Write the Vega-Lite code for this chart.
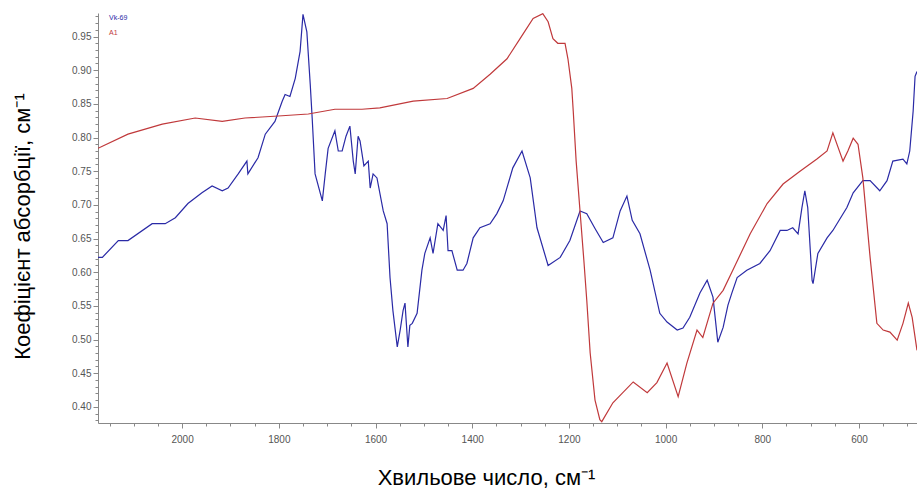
{
  "$schema": "https://vega.github.io/schema/vega-lite/v6.json",
  "autosize": "none",
  "width": 819,
  "height": 410,
  "padding": {"left": 98, "top": 13, "right": 0, "bottom": 67},
  "background": "white",
  "config": {"view": {"stroke": null}},
  "data": {"values": [
    {"s":"Vk-69","wn":2174,"a":0.622},{"s":"Vk-69","wn":2165,"a":0.622},{"s":"Vk-69","wn":2132,"a":0.647},{"s":"Vk-69","wn":2112,"a":0.647},{"s":"Vk-69","wn":2062,"a":0.672},{"s":"Vk-69","wn":2035,"a":0.672},{"s":"Vk-69","wn":2014,"a":0.681},{"s":"Vk-69","wn":1988,"a":0.702},{"s":"Vk-69","wn":1959,"a":0.718},{"s":"Vk-69","wn":1938,"a":0.728},{"s":"Vk-69","wn":1917,"a":0.721},{"s":"Vk-69","wn":1905,"a":0.725},{"s":"Vk-69","wn":1884,"a":0.746},{"s":"Vk-69","wn":1866,"a":0.765},{"s":"Vk-69","wn":1864,"a":0.746},{"s":"Vk-69","wn":1843,"a":0.770},{"s":"Vk-69","wn":1828,"a":0.805},{"s":"Vk-69","wn":1808,"a":0.824},{"s":"Vk-69","wn":1793,"a":0.854},{"s":"Vk-69","wn":1787,"a":0.864},{"s":"Vk-69","wn":1777,"a":0.861},{"s":"Vk-69","wn":1766,"a":0.888},{"s":"Vk-69","wn":1756,"a":0.928},{"s":"Vk-69","wn":1750,"a":0.983},{"s":"Vk-69","wn":1742,"a":0.957},{"s":"Vk-69","wn":1735,"a":0.879},{"s":"Vk-69","wn":1731,"a":0.829},{"s":"Vk-69","wn":1725,"a":0.746},{"s":"Vk-69","wn":1710,"a":0.706},{"s":"Vk-69","wn":1704,"a":0.746},{"s":"Vk-69","wn":1698,"a":0.784},{"s":"Vk-69","wn":1684,"a":0.810},{"s":"Vk-69","wn":1677,"a":0.780},{"s":"Vk-69","wn":1669,"a":0.780},{"s":"Vk-69","wn":1661,"a":0.802},{"s":"Vk-69","wn":1653,"a":0.817},{"s":"Vk-69","wn":1646,"a":0.765},{"s":"Vk-69","wn":1642,"a":0.746},{"s":"Vk-69","wn":1636,"a":0.802},{"s":"Vk-69","wn":1632,"a":0.795},{"s":"Vk-69","wn":1624,"a":0.758},{"s":"Vk-69","wn":1615,"a":0.765},{"s":"Vk-69","wn":1611,"a":0.725},{"s":"Vk-69","wn":1605,"a":0.746},{"s":"Vk-69","wn":1597,"a":0.740},{"s":"Vk-69","wn":1584,"a":0.691},{"s":"Vk-69","wn":1576,"a":0.672},{"s":"Vk-69","wn":1570,"a":0.592},{"s":"Vk-69","wn":1564,"a":0.543},{"s":"Vk-69","wn":1555,"a":0.489},{"s":"Vk-69","wn":1549,"a":0.514},{"s":"Vk-69","wn":1543,"a":0.543},{"s":"Vk-69","wn":1539,"a":0.554},{"s":"Vk-69","wn":1533,"a":0.489},{"s":"Vk-69","wn":1529,"a":0.521},{"s":"Vk-69","wn":1524,"a":0.524},{"s":"Vk-69","wn":1514,"a":0.539},{"s":"Vk-69","wn":1504,"a":0.603},{"s":"Vk-69","wn":1498,"a":0.628},{"s":"Vk-69","wn":1487,"a":0.651},{"s":"Vk-69","wn":1481,"a":0.628},{"s":"Vk-69","wn":1471,"a":0.672},{"s":"Vk-69","wn":1460,"a":0.662},{"s":"Vk-69","wn":1454,"a":0.684},{"s":"Vk-69","wn":1450,"a":0.632},{"s":"Vk-69","wn":1442,"a":0.632},{"s":"Vk-69","wn":1431,"a":0.603},{"s":"Vk-69","wn":1419,"a":0.603},{"s":"Vk-69","wn":1411,"a":0.613},{"s":"Vk-69","wn":1398,"a":0.651},{"s":"Vk-69","wn":1384,"a":0.666},{"s":"Vk-69","wn":1363,"a":0.672},{"s":"Vk-69","wn":1349,"a":0.687},{"s":"Vk-69","wn":1336,"a":0.706},{"s":"Vk-69","wn":1316,"a":0.755},{"s":"Vk-69","wn":1297,"a":0.780},{"s":"Vk-69","wn":1280,"a":0.740},{"s":"Vk-69","wn":1266,"a":0.666},{"s":"Vk-69","wn":1243,"a":0.610},{"s":"Vk-69","wn":1218,"a":0.622},{"s":"Vk-69","wn":1198,"a":0.647},{"s":"Vk-69","wn":1177,"a":0.691},{"s":"Vk-69","wn":1163,"a":0.687},{"s":"Vk-69","wn":1146,"a":0.665},{"s":"Vk-69","wn":1129,"a":0.644},{"s":"Vk-69","wn":1109,"a":0.651},{"s":"Vk-69","wn":1094,"a":0.691},{"s":"Vk-69","wn":1080,"a":0.713},{"s":"Vk-69","wn":1069,"a":0.677},{"s":"Vk-69","wn":1053,"a":0.657},{"s":"Vk-69","wn":1032,"a":0.603},{"s":"Vk-69","wn":1012,"a":0.539},{"s":"Vk-69","wn":997,"a":0.526},{"s":"Vk-69","wn":976,"a":0.514},{"s":"Vk-69","wn":964,"a":0.517},{"s":"Vk-69","wn":950,"a":0.533},{"s":"Vk-69","wn":929,"a":0.569},{"s":"Vk-69","wn":914,"a":0.588},{"s":"Vk-69","wn":902,"a":0.563},{"s":"Vk-69","wn":892,"a":0.496},{"s":"Vk-69","wn":881,"a":0.518},{"s":"Vk-69","wn":871,"a":0.551},{"s":"Vk-69","wn":863,"a":0.569},{"s":"Vk-69","wn":852,"a":0.592},{"s":"Vk-69","wn":832,"a":0.603},{"s":"Vk-69","wn":805,"a":0.613},{"s":"Vk-69","wn":784,"a":0.632},{"s":"Vk-69","wn":763,"a":0.662},{"s":"Vk-69","wn":749,"a":0.662},{"s":"Vk-69","wn":737,"a":0.666},{"s":"Vk-69","wn":726,"a":0.657},{"s":"Vk-69","wn":718,"a":0.696},{"s":"Vk-69","wn":712,"a":0.721},{"s":"Vk-69","wn":706,"a":0.696},{"s":"Vk-69","wn":697,"a":0.588},{"s":"Vk-69","wn":695,"a":0.583},{"s":"Vk-69","wn":685,"a":0.628},{"s":"Vk-69","wn":666,"a":0.651},{"s":"Vk-69","wn":654,"a":0.662},{"s":"Vk-69","wn":625,"a":0.696},{"s":"Vk-69","wn":612,"a":0.718},{"s":"Vk-69","wn":592,"a":0.736},{"s":"Vk-69","wn":577,"a":0.736},{"s":"Vk-69","wn":557,"a":0.721},{"s":"Vk-69","wn":542,"a":0.736},{"s":"Vk-69","wn":530,"a":0.765},{"s":"Vk-69","wn":509,"a":0.768},{"s":"Vk-69","wn":501,"a":0.761},{"s":"Vk-69","wn":495,"a":0.780},{"s":"Vk-69","wn":488,"a":0.839},{"s":"Vk-69","wn":484,"a":0.891},{"s":"Vk-69","wn":480,"a":0.898},
    {"s":"A1","wn":2174,"a":0.784},{"s":"A1","wn":2165,"a":0.787},{"s":"A1","wn":2112,"a":0.805},{"s":"A1","wn":2041,"a":0.820},{"s":"A1","wn":1973,"a":0.829},{"s":"A1","wn":1917,"a":0.824},{"s":"A1","wn":1870,"a":0.829},{"s":"A1","wn":1801,"a":0.832},{"s":"A1","wn":1739,"a":0.835},{"s":"A1","wn":1684,"a":0.842},{"s":"A1","wn":1628,"a":0.842},{"s":"A1","wn":1591,"a":0.844},{"s":"A1","wn":1522,"a":0.854},{"s":"A1","wn":1452,"a":0.858},{"s":"A1","wn":1398,"a":0.873},{"s":"A1","wn":1363,"a":0.894},{"s":"A1","wn":1328,"a":0.917},{"s":"A1","wn":1301,"a":0.947},{"s":"A1","wn":1274,"a":0.977},{"s":"A1","wn":1254,"a":0.984},{"s":"A1","wn":1243,"a":0.972},{"s":"A1","wn":1233,"a":0.947},{"s":"A1","wn":1223,"a":0.940},{"s":"A1","wn":1208,"a":0.940},{"s":"A1","wn":1202,"a":0.917},{"s":"A1","wn":1194,"a":0.873},{"s":"A1","wn":1191,"a":0.839},{"s":"A1","wn":1185,"a":0.765},{"s":"A1","wn":1177,"a":0.691},{"s":"A1","wn":1169,"a":0.617},{"s":"A1","wn":1163,"a":0.558},{"s":"A1","wn":1156,"a":0.480},{"s":"A1","wn":1146,"a":0.410},{"s":"A1","wn":1136,"a":0.381},{"s":"A1","wn":1132,"a":0.378},{"s":"A1","wn":1109,"a":0.406},{"s":"A1","wn":1067,"a":0.437},{"s":"A1","wn":1038,"a":0.421},{"s":"A1","wn":1018,"a":0.436},{"s":"A1","wn":997,"a":0.465},{"s":"A1","wn":974,"a":0.415},{"s":"A1","wn":956,"a":0.465},{"s":"A1","wn":935,"a":0.514},{"s":"A1","wn":923,"a":0.503},{"s":"A1","wn":902,"a":0.554},{"s":"A1","wn":881,"a":0.573},{"s":"A1","wn":861,"a":0.603},{"s":"A1","wn":825,"a":0.657},{"s":"A1","wn":790,"a":0.702},{"s":"A1","wn":757,"a":0.731},{"s":"A1","wn":722,"a":0.750},{"s":"A1","wn":687,"a":0.768},{"s":"A1","wn":666,"a":0.780},{"s":"A1","wn":654,"a":0.807},{"s":"A1","wn":633,"a":0.765},{"s":"A1","wn":623,"a":0.780},{"s":"A1","wn":612,"a":0.799},{"s":"A1","wn":602,"a":0.790},{"s":"A1","wn":592,"a":0.740},{"s":"A1","wn":577,"a":0.622},{"s":"A1","wn":563,"a":0.524},{"s":"A1","wn":550,"a":0.514},{"s":"A1","wn":536,"a":0.511},{"s":"A1","wn":521,"a":0.499},{"s":"A1","wn":509,"a":0.524},{"s":"A1","wn":498,"a":0.554},{"s":"A1","wn":490,"a":0.533},{"s":"A1","wn":480,"a":0.484}
  ]},
  "mark": {"type": "line", "strokeWidth": 1.2, "clip": true},
  "encoding": {
    "x": {
      "field": "wn", "type": "quantitative",
      "scale": {"domain": [480, 2174], "reverse": true, "nice": false, "zero": false},
      "axis": {
        "title": "Хвильове число, см⁻¹",
        "titleFont": "Liberation Sans, Arial",
        "titleFontSize": 22, "titleFontWeight": "normal", "titleColor": "#000",
        "titlePadding": 23, "titleX": 388,
        "values": [500,550,600,650,700,750,800,850,900,950,1000,1050,1100,1150,1200,1250,1300,1350,1400,1450,1500,1550,1600,1650,1700,1750,1800,1850,1900,1950,2000,2050,2100,2150],
        "labelExpr": "datum.value % 200 == 0 ? format(datum.value, 'd') : ''",
        "labelFont": "Liberation Sans Narrow, Liberation Sans, Arial", "labelFontSize": 10, "labelColor": "#555",
        "labelPadding": 6,
        "domainColor": "#888", "tickColor": "#888",
        "tickSize": {"condition": {"test": "datum.value % 200 == 0", "value": 5}, "value": 3},
        "grid": false
      }
    },
    "y": {
      "field": "a", "type": "quantitative",
      "scale": {"domain": [0.376, 0.985], "nice": false, "zero": false},
      "axis": {
        "title": "Коефіцієнт абсорбції, см⁻¹",
        "titleFont": "Liberation Sans, Arial",
        "titleFontSize": 22, "titleFontWeight": "normal", "titleColor": "#000",
        "titlePadding": 37, "titleY": 213,
        "values": [0.38,0.39,0.40,0.41,0.42,0.43,0.44,0.45,0.46,0.47,0.48,0.49,0.50,0.51,0.52,0.53,0.54,0.55,0.56,0.57,0.58,0.59,0.60,0.61,0.62,0.63,0.64,0.65,0.66,0.67,0.68,0.69,0.70,0.71,0.72,0.73,0.74,0.75,0.76,0.77,0.78,0.79,0.80,0.81,0.82,0.83,0.84,0.85,0.86,0.87,0.88,0.89,0.90,0.91,0.92,0.93,0.94,0.95,0.96,0.97,0.98],
        "labelExpr": "round(datum.value * 100) % 5 == 0 ? format(datum.value, '.2f') : ''",
        "labelFont": "Liberation Sans Narrow, Liberation Sans, Arial", "labelFontSize": 10, "labelColor": "#555",
        "labelPadding": 2,
        "domainColor": "#888", "tickColor": "#888",
        "tickSize": {"condition": {"test": "round(datum.value * 100) % 5 == 0", "value": 5}, "value": 3},
        "grid": false
      }
    },
    "color": {
      "field": "s", "type": "nominal",
      "scale": {"domain": ["Vk-69", "A1"], "range": ["#2a2aa6", "#c0393b"]},
      "legend": {
        "title": null, "orient": "none", "legendX": 4, "legendY": 1,
        "symbolSize": 0, "symbolStrokeWidth": 0, "symbolOpacity": 0,
        "labelOffset": 0, "labelFontSize": 7, "rowPadding": 7,
        "labelFont": "Liberation Sans",
        "encode": {"labels": {"update": {"fill": {"scale": "color", "field": "value"}}}}
      }
    }
  }
}
